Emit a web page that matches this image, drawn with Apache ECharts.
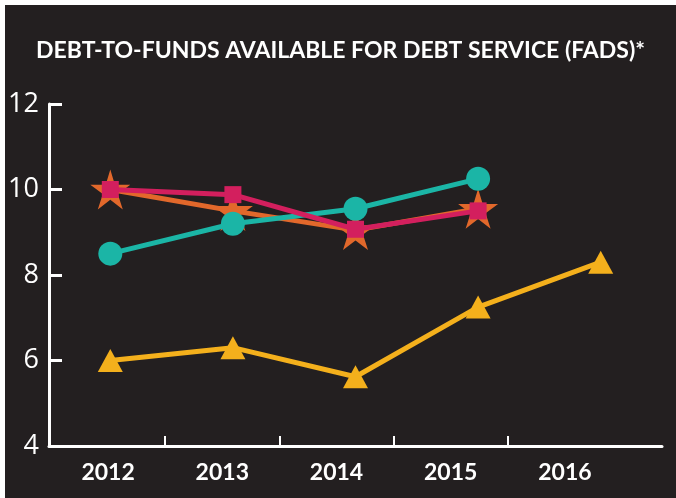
<!DOCTYPE html>
<html>
<head>
<meta charset="utf-8">
<script src="https://cdn.jsdelivr.net/npm/echarts@6/dist/echarts.min.js"></script>
<style>
    html, body { margin: 0; padding: 0; background: #fff; }
    #main { position: absolute; left: 5px; top: 5px; width: 671px; height: 493px; }
</style>
</head>
<body>
<div id="main"></div>
<script>
var years = ['2012', '2013', '2014', '2015', '2016'];
var yTicks = [4, 6, 8, 10, 12];
// 各系列数值
var starVals = [10.0, 9.5, 9.05, 9.55, null];
var circleVals = [8.5, 9.2, 9.55, 10.25, null];
var squareVals = [10.0, 9.88, 9.07, 9.5, null];
var triangleVals = [6.0, 6.3, 5.62, 7.25, 8.3];

var starPath = 'path://M50,0 L61,36 L98,36 L68,58 L80,95 L50,72 L20,95 L32,58 L2,36 L39,36 Z';

function lineSeries(data, color, symbol, size, z) {
    return {
        type: 'line',
        data: data,
        xAxisIndex: 0,
        yAxisIndex: 0,
        symbol: symbol,
        symbolSize: size,
        showAllSymbol: true,
        z: z,
        lineStyle: { color: color, width: 5 },
        itemStyle: { color: color, opacity: 1 },
        emphasis: { disabled: true }
    };
}

var myChart = echarts.init(document.getElementById('main'));
var option = {
    backgroundColor: '#231f20',
    animation: false,
    title: {
        text: 'DEBT-TO-FUNDS AVAILABLE FOR DEBT SERVICE (FADS)*',
        left: 'center',
        top: 29,
        textStyle: {
            color: '#fff',
            fontFamily: 'Lato',
            fontWeight: 'bold',
            fontSize: 23
        }
    },
    grid: [
        { left: 44, right: 14, top: 99, bottom: 52 },
        // 年份标签
        { left: 46, right: 54, top: 99, bottom: 52 },
        // 年份之间的小刻度
        { left: 160, width: 343, top: 99, bottom: 52 }
    ],
    xAxis: [{
        type: 'category',
        gridIndex: 0,
        data: years,
        boundaryGap: true,
        axisLine: { show: true, lineStyle: { color: '#fff', width: 3 } },
        axisTick: {
            show: true,
            inside: true,
            length: 8,
            interval: function (i) { return i >= years.length; },
            lineStyle: { color: '#fff', width: 2 }
        },
        axisLabel: { show: false },
        splitLine: { show: false }
    }, {
        type: 'category',
        gridIndex: 1,
        data: years,
        boundaryGap: true,
        axisLine: { show: false },
        axisTick: { show: false },
        axisLabel: {
            color: '#fff',
            fontFamily: 'Lato',
            fontWeight: 'bold',
            fontSize: 23,
            margin: 15,
            interval: 0
        }
    }, {
        type: 'category',
        gridIndex: 2,
        data: ['', '', ''],
        boundaryGap: true,
        axisLine: { show: false },
        axisTick: {
            show: true,
            inside: true,
            length: 10,
            interval: 0,
            lineStyle: { color: '#fff', width: 2 }
        },
        axisLabel: { show: false }
    }],
    yAxis: [{
        type: 'value',
        gridIndex: 0,
        min: yTicks[0],
        max: yTicks[yTicks.length - 1],
        interval: 2,
        axisLine: { show: true, lineStyle: { color: '#fff', width: 3 } },
        axisTick: { show: true, inside: true, length: 13, lineStyle: { color: '#fff', width: 3 } },
        axisLabel: {
            color: '#fff',
            fontFamily: 'Open Sans',
            fontSize: 27,
            margin: 10
        },
        splitLine: { show: false }
    }, {
        type: 'value',
        gridIndex: 1,
        min: 4,
        max: 12,
        show: false
    }, {
        type: 'value',
        gridIndex: 2,
        min: 4,
        max: 12,
        show: false
    }],
    series: [
        lineSeries(starVals, '#e2682b', starPath, 40, 2),
        lineSeries(circleVals, '#1bb5a6', 'circle', 24, 3),
        lineSeries(squareVals, '#d31f5e', 'rect', 17, 4),
        lineSeries(triangleVals, '#f4b01c', 'triangle', [25, 23], 5)
    ]
};
myChart.setOption(option);
</script>
</body>
</html>
